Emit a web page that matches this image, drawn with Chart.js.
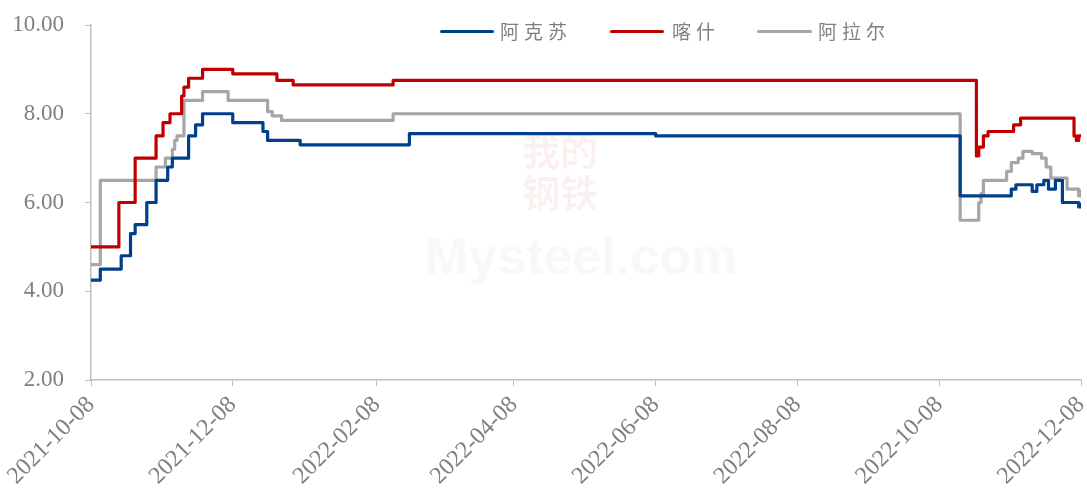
<!DOCTYPE html>
<html>
<head>
<meta charset="utf-8">
<script src="https://cdn.jsdelivr.net/npm/chart.js@4.4.0/dist/chart.umd.min.js"></script>
<style>
    body { margin: 0; background: #fff; }
    .wrap { position: relative; width: 1087px; height: 488px; }
    .wrap canvas { position: relative; z-index: 1; }
    .mark { position: absolute; font-family: 'Noto Sans CJK SC', sans-serif; font-weight: bold; z-index: 0; }
    .legend { position: absolute; top: 19px; left: 0; z-index: 2; font-family: 'Noto Sans CJK SC', sans-serif; font-size: 19px; letter-spacing: 5px; color: #7f7f7f; }
    .legend span { position: absolute; white-space: nowrap; line-height: 24px; }
    .legend i { position: absolute; top: 11px; height: 3px; border-radius: 2px; }
</style>
</head>
<body>
<div class="wrap">
    <div class="mark" style="left:522px; top:128px; font-size:38px; color:rgba(200,30,30,0.06); line-height:42px;">我的<br>钢铁</div>
    <div class="mark" style="left:425px; top:226px; font-size:52px; color:rgba(120,120,120,0.05); font-family:Arial, sans-serif;">Mysteel.com</div>
    <canvas id="priceChart"></canvas>
    <div class="legend">
        <i style="left:440px; width:54px; background:#003f8c;"></i><span style="left:500px;">阿克苏</span>
        <i style="left:610px; width:54px; background:#c00000;"></i><span style="left:672px;">喀什</span>
        <i style="left:757px; width:55px; background:#a6a6a6;"></i><span style="left:818px;">阿拉尔</span>
    </div>
</div>
<script>
// Change points of each series (value holds until the next date)
const startDate = '2021-10-08';

const aksuDates = ['2021-10-08','2021-10-12','2021-10-21','2021-10-25','2021-10-27','2021-11-01','2021-11-05','2021-11-10','2021-11-12','2021-11-19','2021-11-22','2021-11-25','2021-12-08','2021-12-21','2021-12-23','2022-01-06','2022-02-22','2022-06-08','2022-10-17','2022-11-08','2022-11-10','2022-11-17','2022-11-19','2022-11-22','2022-11-24','2022-11-27','2022-11-30','2022-12-07','2022-12-08'];
const aksuValues = [4.25,4.5,4.8,5.3,5.5,6.0,6.5,6.8,7.0,7.5,7.75,8.0,7.8,7.6,7.4,7.3,7.55,7.5,6.15,6.3,6.4,6.25,6.4,6.5,6.3,6.5,6.0,5.9,6.0];

const kashiDates = ['2021-10-08','2021-10-20','2021-10-27','2021-11-05','2021-11-08','2021-11-11','2021-11-16','2021-11-17','2021-11-19','2021-11-25','2021-12-08','2021-12-27','2022-01-03','2022-02-15','2022-10-24','2022-10-25','2022-10-27','2022-10-29','2022-11-09','2022-11-12','2022-12-05','2022-12-06','2022-12-07','2022-12-08'];
const kashiValues = [5.0,6.0,7.0,7.5,7.8,8.0,8.4,8.6,8.8,9.0,8.9,8.75,8.65,8.75,7.05,7.25,7.5,7.6,7.75,7.9,7.5,7.4,7.5,7.5];

const alarDates = ['2021-10-08','2021-10-12','2021-11-05','2021-11-09','2021-11-12','2021-11-13','2021-11-14','2021-11-17','2021-11-25','2021-12-06','2021-12-23','2021-12-25','2021-12-29','2022-02-15','2022-10-17','2022-10-25','2022-10-26','2022-10-27','2022-11-06','2022-11-08','2022-11-11','2022-11-13','2022-11-17','2022-11-21','2022-11-23','2022-11-25','2022-12-02','2022-12-07','2022-12-08'];
const alarValues = [4.6,6.5,6.8,7.0,7.2,7.4,7.5,8.3,8.5,8.3,8.05,7.95,7.85,8.0,5.6,6.0,6.2,6.5,6.7,6.9,7.0,7.15,7.1,7.0,6.8,6.55,6.3,6.15,6.3];

const tickLabels = ['2021-10-08','2021-12-08','2022-02-08','2022-04-08','2022-06-08','2022-08-08','2022-10-08','2022-12-08'];

function dayOf(str) {
    return Math.round((Date.parse(str) - Date.parse(startDate)) / 86400000);
}

function toPoints(dates, values) {
    return dates.map((d, i) => ({ x: dayOf(d), y: values[i] }));
}

const tickDays = tickLabels.map(dayOf);
const axisColor = '#bfbfbf';
const textColor = '#7f7f7f';
const serif = "'Liberation Serif', 'Times New Roman', serif";

const ctx = document.getElementById('priceChart').getContext('2d');
new Chart(ctx, {
    type: 'line',
    data: {
        datasets: [
            { label: '阿克苏', data: toPoints(aksuDates, aksuValues), borderColor: '#003f8c' },
            { label: '喀什', data: toPoints(kashiDates, kashiValues), borderColor: '#c00000' },
            { label: '阿拉尔', data: toPoints(alarDates, alarValues), borderColor: '#a6a6a6' }
        ].map(ds => Object.assign(ds, {
            borderWidth: 3.2,
            pointRadius: 0,
            stepped: true,
            fill: false,
            borderJoinStyle: 'round'
        }))
    },
    options: {
        responsive: true,
        maintainAspectRatio: false,
        animation: false,
        layout: { padding: { top: 25, right: 6, left: 0, bottom: 0 } },
        plugins: {
            legend: { display: false },
            tooltip: { enabled: false }
        },
        scales: {
            x: {
                type: 'linear',
                min: 0,
                max: dayOf(tickLabels[tickLabels.length - 1]),
                afterBuildTicks: scale => {
                    scale.ticks = tickDays.map(v => ({ value: v }));
                },
                afterFit: scale => {
                    scale.height = 108;
                    scale.paddingLeft = 0;
                    scale.paddingRight = 0;
                },
                ticks: {
                    autoSkip: false,
                    minRotation: 45,
                    maxRotation: 45,
                    color: textColor,
                    font: { family: serif, size: 24 },
                    padding: 5,
                    callback: value => tickLabels[tickDays.indexOf(value)]
                },
                grid: { drawOnChartArea: false, drawTicks: true, tickLength: 6, color: axisColor },
                border: { display: true, color: axisColor, width: 1.5 }
            },
            y: {
                min: 2,
                max: 10,
                afterFit: scale => {
                    scale.width = 91;
                    scale.paddingTop = 0;
                    scale.paddingBottom = 0;
                },
                ticks: {
                    stepSize: 2,
                    color: textColor,
                    font: { family: serif, size: 23 },
                    padding: 21,
                    callback: value => value.toFixed(2)
                },
                grid: { drawOnChartArea: false, drawTicks: true, tickLength: 6, color: axisColor },
                border: { display: true, color: axisColor, width: 1.5 }
            }
        }
    }
});
</script>
</body>
</html>
